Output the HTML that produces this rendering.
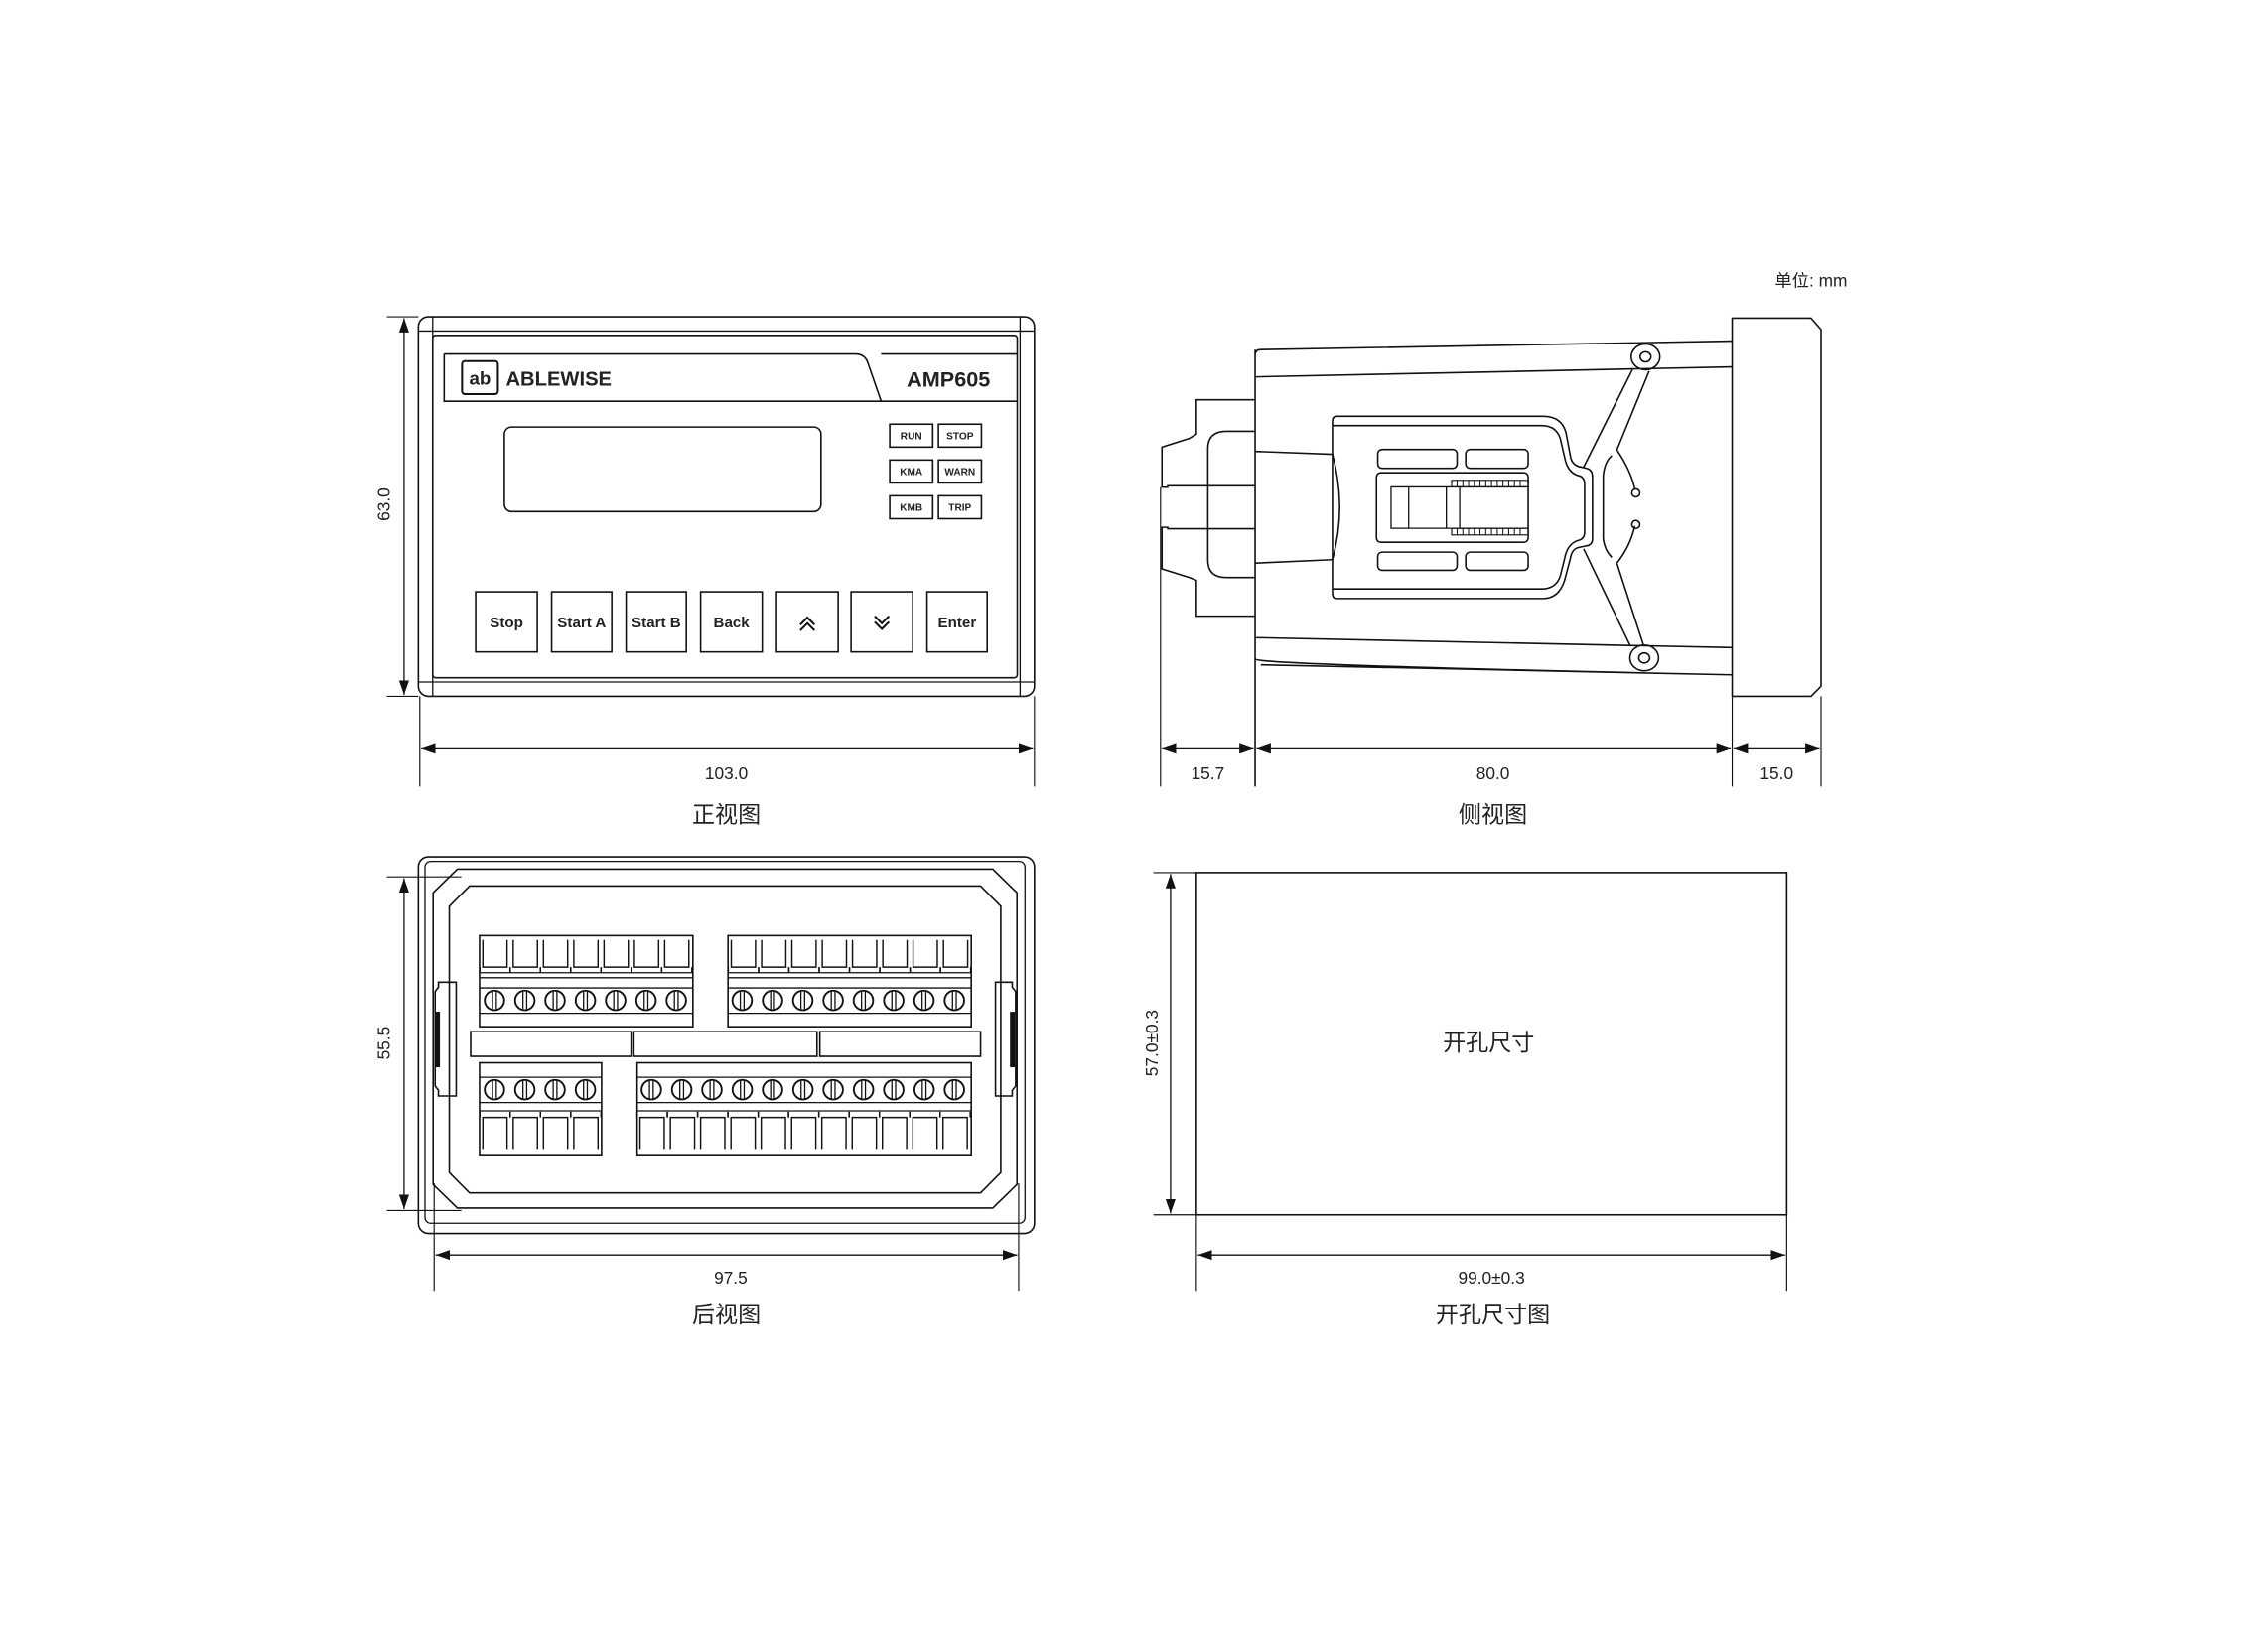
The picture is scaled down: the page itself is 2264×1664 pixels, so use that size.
<!DOCTYPE html>
<html><head><meta charset="utf-8"><style>
html,body{margin:0;padding:0;background:#fff;}
svg{display:block;}
text{font-family:"Liberation Sans","Noto Sans CJK SC",sans-serif;fill:#222;}
</style></head><body>
<svg width="2264" height="1664" viewBox="0 0 1569 1153" xmlns="http://www.w3.org/2000/svg">
<defs>
<marker id="ar" markerWidth="10" markerHeight="8" refX="10" refY="4" orient="auto-start-reverse" markerUnits="userSpaceOnUse"><path d="M0,0.5 L10,4 L0,7.5z" fill="#111"/></marker>
<g id="scr"><circle r="6.8" fill="#fff" stroke="#111" stroke-width="1.3"/><rect x="-1.3" y="-6.6" width="2.6" height="13.2" fill="#fff" stroke="#111" stroke-width="0.9"/></g>
<g id="cellT"><path d="M0,0 V19 H16.9 V0" fill="none" stroke="#111" stroke-width="1"/><path d="M-2.1,19 V23 M19,19 V23" stroke="#111" stroke-width="1"/></g>
<g id="cellB"><path d="M0,26 V4 H16.9 V26" fill="none" stroke="#111" stroke-width="1"/><path d="M-2.1,0 V4 M19,0 V4" stroke="#111" stroke-width="1"/></g>
</defs>
<g fill="none" stroke="#111" stroke-width="1.1">
<!-- FRONT VIEW -->
<rect x="292" y="221" width="430" height="265" rx="7"/>
<path d="M292,231 H722 M292,476 H722 M302,221 V486 M712,221 V486" stroke-width="0.9"/>
<rect x="302" y="234" width="408" height="239" rx="2"/>
<path d="M310,247 H597 Q604,247 606,254 L615,280 M310,247 V280 H710 M615,247 H710"/>
<rect x="322.5" y="252" width="25" height="23" rx="2" stroke-width="1.4"/>
<rect x="352" y="298" width="221" height="59" rx="5"/>
<rect x="621" y="296" width="30" height="16"/><rect x="655" y="296" width="30" height="16"/>
<rect x="621" y="321" width="30" height="16"/><rect x="655" y="321" width="30" height="16"/>
<rect x="621" y="346" width="30" height="16"/><rect x="655" y="346" width="30" height="16"/>
<rect x="332" y="413" width="43" height="42"/><rect x="385" y="413" width="42" height="42"/>
<rect x="437" y="413" width="42" height="42"/><rect x="489" y="413" width="43" height="42"/>
<rect x="542" y="413" width="43" height="42"/><rect x="594" y="413" width="43" height="42"/>
<rect x="647" y="413" width="42" height="42"/>
<path d="M558.5,436 L563.5,431 L568.5,436 M558.5,440 L563.5,435 L568.5,440" stroke-width="1.4"/>
<path d="M610.5,430 L615.5,435 L620.5,430 M610.5,434 L615.5,439 L620.5,434" stroke-width="1.4"/>
<!-- front dims -->
<path d="M270,221 H292 M270,486 H292 M293,486 V549 M722,486 V549" stroke-width="0.8"/>
<path d="M282,222 V485" marker-start="url(#ar)" marker-end="url(#ar)" stroke-width="0.9"/>
<path d="M294,522 H721" marker-start="url(#ar)" marker-end="url(#ar)" stroke-width="0.9"/>

<!-- SIDE VIEW -->
<path d="M1209,222 H1264 L1271,230 V479 L1264,486 H1209 Z"/>
<path d="M876,248 Q876,244 880,244 L1209,238 M876,263 L1209,256 M876,445 L1209,452 M880,464 L1209,471 Q876,464 876,460 M876,244 V549"/>
<path d="M876,279 H835 V303 L830,306 L811,312 V340 H815 V339 H876 M876,369 H815 V368 H811 V397 L830,403 L835,405 V430 H876"/>
<path d="M876,301 H856 Q843,301 843,313 V391 Q843,403 856,403 H876"/>
<path d="M876,315 L930,317 M876,393 L930,390.6"/>
<path d="M933,290.5 H1077 Q1090,290.5 1093,302 L1096,318 Q1097,325 1104,326 L1108,327 Q1111.5,328 1111.5,333 V376 Q1111.5,380.5 1107,381 L1102,382 Q1097,383 1096,390 L1092,405 Q1088,417.7 1077,417.7 H933 Q930,417.7 930,414 V294 Q930,290.5 933,290.5 Z"/>
<path d="M930,297 H1076 Q1086,297 1089,306 L1092,319 Q1094,330 1102,332 Q1106,333 1106,338 V371 Q1106,376 1102,377 Q1094,379 1092,390 L1089,402 Q1086,411 1076,411 H930"/>
<path d="M930,317 Q940,354 930,390.6" />
<rect x="961.6" y="313.6" width="55.4" height="13.2" rx="3"/><rect x="1023" y="313.6" width="43.6" height="13.2" rx="3"/>
<rect x="961.6" y="385.3" width="55.4" height="12.7" rx="3"/><rect x="1023" y="385.3" width="43.6" height="12.7" rx="3"/>
<rect x="960.7" y="329.9" width="105.9" height="48.5" rx="3"/>
<path d="M1066.6,339.8 H970.9 V368.7 H1066.6 M983.2,339.8 V368.7 M1009.5,339.8 V368.7 M1018.8,339.8 V368.7" stroke-width="0.9"/>
<rect x="1013.2" y="335.2" width="53.4" height="4.6" stroke-width="0.8"/>
<rect x="1013.2" y="368.7" width="53.4" height="4.6" stroke-width="0.8"/>
<path d="M1017,335.2 V339.8 M1021,335.2 V339.8 M1025,335.2 V339.8 M1029,335.2 V339.8 M1033,335.2 V339.8 M1037,335.2 V339.8 M1041,335.2 V339.8 M1045,335.2 V339.8 M1049,335.2 V339.8 M1053,335.2 V339.8 M1057,335.2 V339.8 M1061,335.2 V339.8 M1017,368.7 V373.3 M1021,368.7 V373.3 M1025,368.7 V373.3 M1029,368.7 V373.3 M1033,368.7 V373.3 M1037,368.7 V373.3 M1041,368.7 V373.3 M1045,368.7 V373.3 M1049,368.7 V373.3 M1053,368.7 V373.3 M1057,368.7 V373.3 M1061,368.7 V373.3" stroke-width="0.7"/>
<ellipse cx="1148.5" cy="249" rx="10" ry="9"/><ellipse cx="1148.5" cy="249" rx="3.8" ry="3.5"/>
<ellipse cx="1147.6" cy="459.2" rx="10" ry="9"/><ellipse cx="1147.6" cy="459.2" rx="3.8" ry="3.5"/>
<path d="M1139.3,258 L1105.3,326 M1151,259 L1128.5,314 Q1138,328 1141,341 M1105.3,383 L1138,451 M1128.5,393 L1147,450 M1128.5,393 Q1138,381 1141,367"/>
<circle cx="1141.7" cy="344" r="2.8"/><circle cx="1141.7" cy="366" r="2.8"/>
<path d="M1125,318 Q1120,322 1119,332 V376 Q1120,384 1125,389"/>
<!-- side dims -->
<path d="M810,340 V549 M1209,486 V549 M1271,486 V549" stroke-width="0.8"/>
<path d="M811,522 H875" marker-start="url(#ar)" marker-end="url(#ar)" stroke-width="0.9"/>
<path d="M877,522 H1208" marker-start="url(#ar)" marker-end="url(#ar)" stroke-width="0.9"/>
<path d="M1210,522 H1270" marker-start="url(#ar)" marker-end="url(#ar)" stroke-width="0.9"/>

<!-- BACK VIEW -->
<rect x="292" y="598" width="430" height="263" rx="7"/>
<rect x="296.6" y="601.2" width="418.8" height="252.7" rx="4" stroke-width="0.9"/>
<path d="M319.2,606.6 H692.9 L709.8,623.1 V826.8 L692.9,843.3 H319.2 L302.3,826.8 V623.1 Z"/>
<path d="M327.7,618.4 H684.4 L698.5,632.5 V818.5 L684.4,832.7 H327.7 L313.6,818.5 V632.5 Z"/>
<path d="M270,612 H322 M270,845 H322 M303,826 V901 M711,826 V901" stroke-width="0.8"/>
<path d="M282,613 V844" marker-start="url(#ar)" marker-end="url(#ar)" stroke-width="0.9"/>
<path d="M304,876 H710" marker-start="url(#ar)" marker-end="url(#ar)" stroke-width="0.9"/>
<!-- clips -->
<path d="M318.4,685.5 H306 V689 L303.7,692 V758 L306,761 V765 H318.4 Z"/>
<rect x="304.5" y="706.7" width="2" height="37.7" fill="#111"/>
<path d="M694.8,685.5 H706.5 V689 L708.9,692 V758 L706.5,761 V765 H694.8 Z"/>
<rect x="705.5" y="706.7" width="2.3" height="37.7" fill="#111"/>
<!-- blocks -->
<g transform="translate(0,4)">
<rect x="334.7" y="649" width="148.9" height="63.6"/>
<path d="M334.7,674.9 H483.6 M334.7,678.4 H483.6 M334.7,685.5 H483.6 M334.7,703.2 H483.6" stroke-width="0.9"/>
<rect x="508.1" y="649" width="169.8" height="63.6"/>
<path d="M508.1,674.9 H677.9 M508.1,678.4 H677.9 M508.1,685.5 H677.9 M508.1,703.2 H677.9" stroke-width="0.9"/>
<rect x="328.5" y="716.1" width="112" height="17.2"/>
<rect x="442.4" y="716.1" width="127.8" height="17.2"/>
<rect x="572.2" y="716.1" width="112.2" height="17.2"/>
<rect x="334.7" y="737.8" width="85.2" height="64.2"/>
<path d="M334.7,747.9 H419.9 M334.7,765.6 H419.9 M334.7,771.4 H419.9" stroke-width="0.9"/>
<rect x="444.7" y="737.8" width="233.2" height="64.2"/>
<path d="M444.7,747.9 H677.9 M444.7,765.6 H677.9 M444.7,771.4 H677.9" stroke-width="0.9"/>
</g>

<!-- CUTOUT -->
<rect x="835" y="609" width="412" height="239"/>
<path d="M805,609 H835 M805,848 H835 M835,848 V901 M1247,848 V901" stroke-width="0.8"/>
<path d="M817,610 V847" marker-start="url(#ar)" marker-end="url(#ar)" stroke-width="0.9"/>
<path d="M836,876 H1246" marker-start="url(#ar)" marker-end="url(#ar)" stroke-width="0.9"/>
</g>
<!-- terminal cells & screws -->
<g transform="translate(0,4)">
<use href="#cellT" x="337" y="652"/><use href="#cellT" x="358.2" y="652"/><use href="#cellT" x="379.3" y="652"/><use href="#cellT" x="400.5" y="652"/><use href="#cellT" x="421.6" y="652"/><use href="#cellT" x="442.8" y="652"/><use href="#cellT" x="463.9" y="652"/>
<use href="#cellT" x="510.4" y="652"/><use href="#cellT" x="531.6" y="652"/><use href="#cellT" x="552.7" y="652"/><use href="#cellT" x="573.9" y="652"/><use href="#cellT" x="595" y="652"/><use href="#cellT" x="616.2" y="652"/><use href="#cellT" x="637.3" y="652"/><use href="#cellT" x="658.5" y="652"/>
<use href="#scr" x="345.1" y="694.2"/><use href="#scr" x="366.3" y="694.2"/><use href="#scr" x="387.4" y="694.2"/><use href="#scr" x="408.6" y="694.2"/><use href="#scr" x="429.7" y="694.2"/><use href="#scr" x="450.9" y="694.2"/><use href="#scr" x="472" y="694.2"/>
<use href="#scr" x="518" y="694.2"/><use href="#scr" x="539.2" y="694.2"/><use href="#scr" x="560.3" y="694.2"/><use href="#scr" x="581.5" y="694.2"/><use href="#scr" x="602.6" y="694.2"/><use href="#scr" x="623.8" y="694.2"/><use href="#scr" x="644.9" y="694.2"/><use href="#scr" x="666.1" y="694.2"/>
<use href="#scr" x="345.1" y="756.6"/><use href="#scr" x="366.3" y="756.6"/><use href="#scr" x="387.4" y="756.6"/><use href="#scr" x="408.6" y="756.6"/>
<use href="#scr" x="454.6" y="756.6"/><use href="#scr" x="475.8" y="756.6"/><use href="#scr" x="496.9" y="756.6"/><use href="#scr" x="518.1" y="756.6"/><use href="#scr" x="539.2" y="756.6"/><use href="#scr" x="560.4" y="756.6"/><use href="#scr" x="581.5" y="756.6"/><use href="#scr" x="602.7" y="756.6"/><use href="#scr" x="623.8" y="756.6"/><use href="#scr" x="645" y="756.6"/><use href="#scr" x="666.1" y="756.6"/>
<use href="#cellB" x="337" y="772"/><use href="#cellB" x="358.2" y="772"/><use href="#cellB" x="379.3" y="772"/><use href="#cellB" x="400.5" y="772"/>
<use href="#cellB" x="446.7" y="772"/><use href="#cellB" x="467.9" y="772"/><use href="#cellB" x="489" y="772"/><use href="#cellB" x="510.2" y="772"/><use href="#cellB" x="531.3" y="772"/><use href="#cellB" x="552.5" y="772"/><use href="#cellB" x="573.6" y="772"/><use href="#cellB" x="594.8" y="772"/><use href="#cellB" x="615.9" y="772"/><use href="#cellB" x="637.1" y="772"/><use href="#cellB" x="658.2" y="772"/>
</g>
<!-- TEXT -->
<g text-anchor="middle">
<text x="335" y="268.5" font-size="13" font-weight="bold">ab</text>
<text x="390" y="269" font-size="14" font-weight="bold">ABLEWISE</text>
<text x="662" y="270" font-size="15" font-weight="bold">AMP605</text>
<g font-size="7" font-weight="bold">
<text x="636" y="306.5">RUN</text><text x="670" y="306.5">STOP</text>
<text x="636" y="331.5">KMA</text><text x="670" y="331.5">WARN</text>
<text x="636" y="356.5">KMB</text><text x="670" y="356.5">TRIP</text>
</g>
<g font-size="10.5" font-weight="bold">
<text x="353.5" y="438">Stop</text><text x="406" y="438">Start A</text><text x="458" y="438">Start B</text>
<text x="510.5" y="438">Back</text><text x="668" y="438">Enter</text>
</g>
<g font-size="12">
<text x="507" y="544">103.0</text>
<text x="843" y="544">15.7</text><text x="1042" y="544">80.0</text><text x="1240" y="544">15.0</text>
<text x="510" y="896">97.5</text><text x="1041" y="896">99.0±0.3</text>
<text transform="translate(272,352) rotate(-90)">63.0</text>
<text transform="translate(272,728) rotate(-90)">55.5</text>
<text transform="translate(808,728) rotate(-90)">57.0±0.3</text>
<text x="1264" y="200">单位: mm</text>
</g>
<g font-size="16">
<text x="507" y="574">正视图</text><text x="1042" y="574">侧视图</text>
<text x="507" y="923">后视图</text><text x="1042" y="923">开孔尺寸图</text>
<text x="1039" y="733">开孔尺寸</text>
</g>
</g>
</svg>
</body></html>
